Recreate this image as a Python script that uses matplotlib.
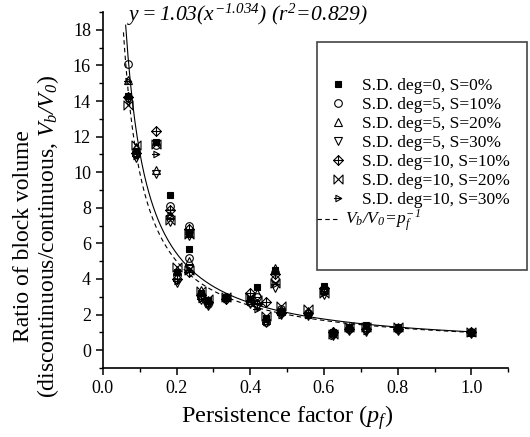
import numpy as np
import matplotlib
matplotlib.use('Agg')
import matplotlib.pyplot as plt
from matplotlib.path import Path
from matplotlib.patches import Rectangle

plt.rcParams['font.family'] = ['Liberation Serif', 'DejaVu Serif']
plt.rcParams['mathtext.fontset'] = 'custom'
plt.rcParams['mathtext.rm'] = 'Liberation Serif:italic'
plt.rcParams['mathtext.it'] = 'Liberation Serif:italic'

# persistence factor values (two groups at 0.235)
pf = [0.067, 0.091, 0.143, 0.182, 0.2, 0.235, 0.235, 0.267, 0.286, 0.333, 0.4,
      0.417, 0.444, 0.467, 0.483, 0.556, 0.6, 0.625, 0.667, 0.714, 0.8, 1.0]

sd0_s0 = [14.3, 11.2, 11.7, 8.7, 4.4, 6.6, 5.7, 3.2, 2.8, 3.0, 2.9,
          3.55, 1.8, 4.5, 2.2, 2.0, 3.6, 1.0, 1.3, 1.4, 1.3, 1.0]
sd5_s10 = [16.1, 11.0, 11.5, 8.1, 4.2, 7.0, 5.2, 3.0, 2.6, 3.0, 2.7,
           3.0, 1.6, 4.0, 2.3, 2.1, 3.3, 0.9, 1.2, 1.2, 1.2, 1.0]
sd5_s20 = [15.2, 11.4, 10.1, 7.6, 4.5, 6.6, 5.0, 3.4, 2.8, 3.0, 2.8,
           3.2, 1.7, 4.6, 2.2, 2.2, 3.4, 1.1, 1.3, 1.3, 1.3, 1.0]
sd5_s30 = [14.0, 10.8, 9.9, 7.2, 3.8, 6.4, 4.6, 2.8, 2.5, 2.9, 2.6,
           2.4, 1.5, 3.5, 2.0, 1.9, 3.1, 0.8, 1.1, 1.0, 1.1, 0.9]
sd10_s10 = [14.2, 11.1, 12.3, 7.9, 4.0, 6.8, 4.4, 3.1, 2.7, 2.9, 3.2,
            2.6, 2.7, 4.3, 2.1, 2.1, 3.5, 1.0, 1.2, 1.2, 1.2, 1.0]
sd10_s20 = [13.8, 11.5, 11.6, 7.3, 4.7, 6.5, 4.5, 3.3, 2.9, 3.0, 3.0,
            2.8, 1.9, 3.8, 2.5, 2.3, 3.2, 0.9, 1.3, 1.3, 1.3, 1.0]
sd10_s30 = [15.1, 10.9, 11.0, 7.6, 3.9, 6.5, 4.5, 2.9, 2.6, 2.9, 2.7,
            2.3, 1.6, 3.7, 2.0, 2.0, 3.2, 0.8, 1.2, 1.1, 1.2, 1.0]

labels = ['S.D. deg=0, S=0%', 'S.D. deg=5, S=10%', 'S.D. deg=5, S=20%',
          'S.D. deg=5, S=30%', 'S.D. deg=10, S=10%', 'S.D. deg=10, S=20%',
          'S.D. deg=10, S=30%']

# power law fit y = a x^b
fit_a = 1.03
fit_b = -1.034

# custom markers
M, L, C = Path.MOVETO, Path.LINETO, Path.CLOSEPOLY
diam_cross = Path([(0, 1), (1, 0), (0, -1), (-1, 0), (0, 1),
                   (0, 1), (0, -1), (-1, 0), (1, 0)],
                  [M, L, L, L, C, M, L, M, L])
bowtie = Path([(-1, 1), (1, -1), (1, 1), (-1, -1), (-1, 1)],
              [M, L, L, L, C])
tri_line = Path([(-0.8, 1), (1, 0), (-0.8, -1), (-0.8, 1), (-1.4, 0), (1, 0)],
                [M, L, L, C, M, L])

fig = plt.figure(figsize=(5.3, 4.37), dpi=100)
ax = fig.add_axes([0.194, 0.158, 0.765, 0.8145])

series = [sd0_s0, sd5_s10, sd5_s20, sd5_s30, sd10_s10, sd10_s20, sd10_s30]
markers = ['s', 'o', '^', 'v', diam_cross, bowtie, tri_line]
sizes = [5, 5.5, 5.5, 5.5, 7, 6.5, 6.5]
handles = []
for ys, mk, ms, lab in zip(series, markers, sizes, labels):
    filled = (mk == 's')
    h, = ax.plot(pf, ys, linestyle='none', marker=mk, markersize=ms,
                 markerfacecolor='black' if filled else 'none',
                 markeredgecolor='black', markeredgewidth=0.8, label=lab)
    handles.append(h)

xs_fit = np.linspace(0.062, 1.0, 300)
ax.plot(xs_fit, fit_a * xs_fit ** fit_b, color='black', lw=0.8)
xs_inv = np.linspace(0.056, 1.0, 300)
dash, = ax.plot(xs_inv, 1.0 / xs_inv, color='black', lw=0.8, ls=(0, (4, 3)))

ax.set_xlim(0, 1.1)
ax.set_ylim(-1, 19)
ax.set_xticks(np.arange(0, 1.01, 0.2))
ax.set_xticks(np.arange(0, 1.11, 0.1), minor=True)
ax.set_yticks(np.arange(0, 19, 2))
ax.set_yticks(np.arange(-1, 19.5, 1), minor=True)
ax.xaxis.set_major_formatter(matplotlib.ticker.FormatStrFormatter('%.1f'))
for s in ['top', 'right']:
    ax.spines[s].set_visible(False)
for s in ['left', 'bottom']:
    ax.spines[s].set_linewidth(1.2)
ax.tick_params(which='major', direction='out', length=5, width=1.1, labelsize=13)
ax.tick_params(which='minor', direction='out', length=3, width=1.0)

ax.set_xlabel(r'Persistence factor ($p_f$)', fontsize=17.5)
ax.xaxis.set_label_coords(0.455, -0.1)
ax.set_ylabel('Ratio of block volume\n' + r'(discontinuous/continuous, $V_b/V_0$)',
              fontsize=17, linespacing=1.05)
ax.yaxis.set_label_coords(-0.103, 0.37)

fig.text(127 / 530, 1 - 15 / 437,
         r'$y = 1.03(x^{-1.034})\ (r^{2}\!=\!0.829)$',
         fontsize=15.5, va='center', ha='left')

# legend box
fig.patches.append(Rectangle((317 / 530, 1 - 270 / 437), 210 / 530, 228 / 437,
                             transform=fig.transFigure, fill=False,
                             edgecolor='#444444', linewidth=1.2))
fig.legend(handles=handles, loc='upper left',
           bbox_to_anchor=(329 / 530, 1 - 78 / 437), frameon=False,
           fontsize=12.5, handlelength=1.0, handletextpad=0.9,
           labelspacing=0.16, borderpad=0, borderaxespad=0)
fig.legend(handles=[dash], labels=[r'$V_b/V_0\!=\!p_f^{-1}$'],
           loc='upper left', bbox_to_anchor=(317 / 530, 1 - 208 / 437),
           frameon=False, fontsize=12.5, handlelength=1.3, handletextpad=0.3,
           borderpad=0, borderaxespad=0)

fig.savefig('out.png', dpi=100)
